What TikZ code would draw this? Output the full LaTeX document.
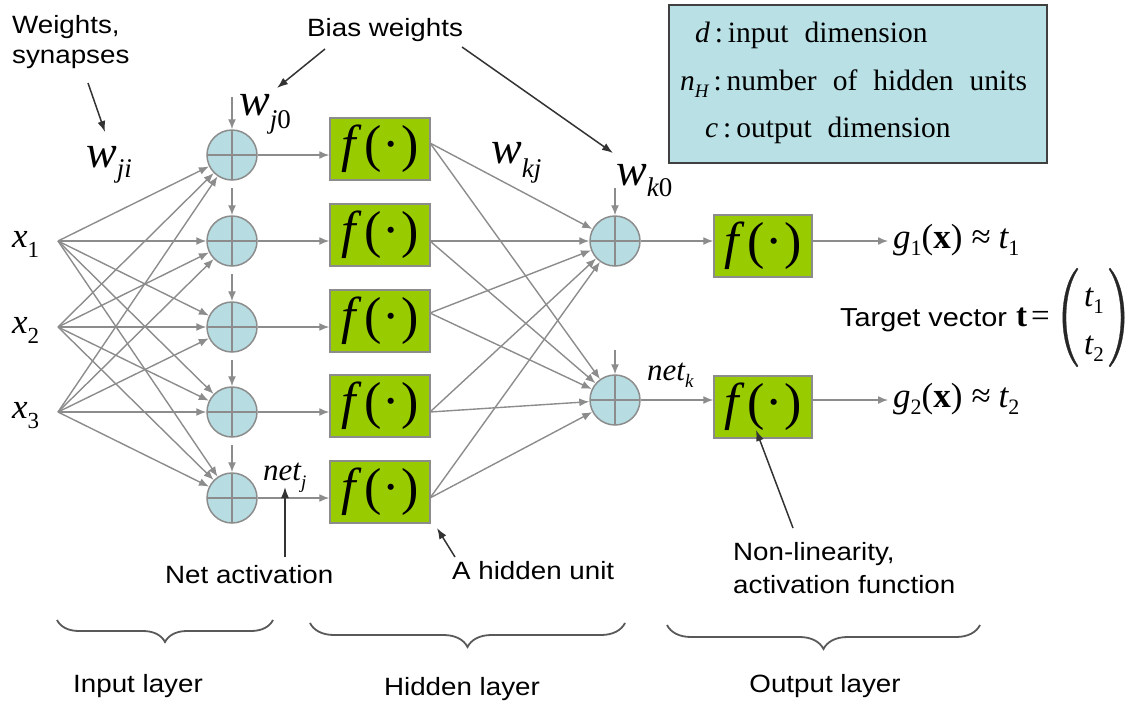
\documentclass[tikz,border=0pt]{standalone}
\usepackage{graphicx}
\usepackage{fontspec}
\setmainfont{Liberation Serif}
\newfontfamily\lsans[FakeStretch=1.11]{Liberation Sans}
\usetikzlibrary{arrows.meta,decorations.pathreplacing}
\definecolor{sumblue}{HTML}{B7DDE3}
\definecolor{unitgreen}{HTML}{99CC00}
\definecolor{linegray}{HTML}{8C8C8C}
\definecolor{boxblue}{HTML}{B9E0E5}
\newcommand{\fsz}[1]{\fontsize{#1}{#1}\selectfont}
\newcommand{\fdot}{\itshape f\,\upshape(\kern1pt·\kern1pt)}
\begin{document}
\begin{tikzpicture}[x=1pt,y=-1pt,
  sumnode/.style={circle,draw=linegray,line width=1.5pt,fill=sumblue,minimum size=50pt,inner sep=0pt,
     path picture={\draw[linegray,line width=1.5pt] (path picture bounding box.north) -- (path picture bounding box.south) (path picture bounding box.west) -- (path picture bounding box.east);}},
  unit/.style={rectangle,draw=linegray,line width=1.5pt,fill=unitgreen,minimum width=100pt,minimum height=62pt,inner sep=0pt,font=\fsz{52}},
  conn/.style={draw=linegray,line width=1.4pt,-{Latex[length=10pt,width=8pt]}},
  note/.style={draw=black!80,line width=1.5pt,-{Latex[length=11pt,width=8pt]}},
  lab/.style={font=\lsans\fsz{25},inner sep=0pt},
  mth/.style={inner sep=0pt,anchor=base west},
  paren/.style={fill=black!85,draw=black!85,line width=0.3pt},
  brc/.style={draw=black!65,line width=1.8pt,decorate,decoration={brace,mirror,amplitude=#1}}
]
\useasboundingbox (0,0) rectangle (1125,702);

% info box
\node[draw=black!75,line width=2pt,fill=boxblue,minimum width=378pt,minimum height=158pt,inner sep=0pt] (info) at (858,84) {};
\node[mth,font=\fsz{29.5}] (l1) at (695,42) {\itshape d\upshape\,:\,input\hspace{16pt}dimension};
\node[mth,font=\fsz{29.5}] (l2) at (680,90) {\itshape n\raisebox{-7pt}{\fsz{19}H}\upshape\,:\,number\hspace{16pt}of\hspace{16pt}hidden\hspace{16pt}units};
\node[mth,font=\fsz{29.5}] (l3) at (705,137) {\itshape c\upshape\,:\,output\hspace{16pt}dimension};

% input labels
\foreach \i/\y in {1/241,2/327,3/412}{
  \node[mth,font=\fsz{35}] (x\i) at (12,\y+6) {\itshape x\raisebox{-10pt}{\fsz{23}\upshape \i}};
  \coordinate (xo\i) at (58,\y);
}

% summation nodes and hidden units
\foreach \j/\y in {1/155,2/241,3/327,4/412,5/498}{
  \node[sumnode] (s\j) at (232,\y) {};
  \node[unit] (h\j) at (380,\y-6) {\fdot};
}
\coordinate (bs1) at (232,97);
\coordinate (bs2) at (232,188);
\coordinate (bs3) at (232,274);
\coordinate (bs4) at (232,360);
\coordinate (bs5) at (232,445);
\foreach \j in {1,...,5}{
  \draw[conn] (bs\j) -- (s\j.north);
  \draw[conn] (s\j) -- (s\j -| h\j.west);
}
\foreach \i in {1,2,3}{
  \foreach \j in {1,...,5}{
    \draw[conn] (xo\i) -- (s\j);
  }
}

% output layer
\node[sumnode] (o1) at (615,241) {};
\node[sumnode] (o2) at (615,400) {};
\node[unit,minimum width=98pt] (y1) at (763,246) {\fdot};
\node[unit,minimum width=98pt] (y2) at (763,407) {\fdot};
\coordinate (bo1) at (615,188);
\coordinate (bo2) at (615,350);
\coordinate (ge1) at (888,241);
\coordinate (ge2) at (888,400);
\foreach \k in {1,2}{
  \draw[conn] (bo\k) -- (o\k.north);
  \draw[conn] (o\k) -- (o\k -| y\k.west);
  \draw[conn] (o\k -| y\k.east) -- (ge\k);
}
\coordinate (ho1) at (430,143);
\coordinate (ho2) at (430,241);
\coordinate (ho3) at (430,313);
\coordinate (ho4) at (430,412);
\coordinate (ho5) at (430,498);
\foreach \j in {1,...,5}{
  \draw[conn] (ho\j) -- (o1);
  \draw[conn] (ho\j) -- (o2);
}

% outputs
\node[mth,font=\fsz{35}] (g1) at (893,248) {\itshape g\raisebox{-7pt}{\fsz{22}\upshape 1}\upshape(\textbf{x})\kern9pt≈\kern8pt\itshape t\raisebox{-7pt}{\fsz{22}\upshape 1}};
\node[mth,font=\fsz{35}] (g2) at (893,407) {\itshape g\raisebox{-7pt}{\fsz{22}\upshape 2}\upshape(\textbf{x})\kern9pt≈\kern8pt\itshape t\raisebox{-7pt}{\fsz{22}\upshape 2}};

% target vector
\node[lab,anchor=base west,font=\lsans\fsz{26}] (tv) at (840,326) {Target vector};
\node[mth,font=\fsz{33}] (teq) at (1016,326) {\textbf{t}\kern4pt=};
\fill[paren] (1077,268) .. controls (1058,290) and (1058,345) .. (1077,367)
   -- (1078,366) .. controls (1062,342) and (1062,293) .. (1078,269) -- cycle;
\fill[paren] (1110,268) .. controls (1129,290) and (1129,345) .. (1110,367)
   -- (1109,366) .. controls (1125,342) and (1125,293) .. (1109,269) -- cycle;
\node[mth,font=\fsz{33}] (t1) at (1084,306) {\itshape t\raisebox{-7pt}{\fsz{21}\upshape 1}};
\node[mth,font=\fsz{33}] (t2) at (1084,354) {\itshape t\raisebox{-7pt}{\fsz{21}\upshape 2}};

% weight labels
\node[mth,font=\fsz{46}] (wji) at (86,167) {\itshape w\raisebox{-10pt}{\fsz{27}ji}};
\node[mth,font=\fsz{46}] (wj0) at (239,115) {\itshape w\raisebox{-13pt}{\fsz{27}j\upshape 0}};
\node[mth,font=\fsz{46}] (wkj) at (491,163) {\itshape w\raisebox{-14pt}{\fsz{27}kj}};
\node[mth,font=\fsz{46}] (wk0) at (616,185) {\itshape w\raisebox{-11pt}{\fsz{27}k\upshape 0}};
\node[mth,font=\fsz{31}] (netj) at (263,480) {\itshape net\raisebox{-8pt}{\fsz{19}j}};
\node[mth,font=\fsz{31}] (netk) at (647,380) {\itshape net\raisebox{-7pt}{\fsz{19}k}};

% annotations
\node[lab,anchor=base west] (wt1) at (12,33) {Weights,};
\node[lab,anchor=base west] (wt2) at (12,63) {synapses};
\coordinate (wa1) at (88,83); \coordinate (wa2) at (105,132);
\draw[note] (wa1) -- (wa2);
\node[lab,anchor=base west] (bw) at (307,36) {Bias weights};
\coordinate (ba1) at (325,49); \coordinate (ba2) at (277,88);
\coordinate (ba3) at (462,47); \coordinate (ba4) at (613,153);
\draw[note] (ba1) -- (ba2);
\draw[note] (ba3) -- (ba4);
\node[lab,anchor=base west] (na) at (165,583) {Net activation};
\coordinate (na1) at (285,557); \coordinate (na2) at (285,487);
\draw[note] (na1) -- (na2);
\node[lab,anchor=base west] (hu) at (452,579) {A hidden unit};
\coordinate (hu1) at (455,557); \coordinate (hu2) at (437,528);
\draw[note] (hu1) -- (hu2);
\node[lab,anchor=base west] (nl1) at (733,560) {Non-linearity,};
\node[lab,anchor=base west] (nl2) at (733,593) {activation function};
\coordinate (nl3) at (793,528); \coordinate (nl4) at (756,430);
\draw[note] (nl3) -- (nl4);

% braces
\coordinate (br1a) at (57,620); \coordinate (br1b) at (273,620);
\coordinate (br2a) at (310,623); \coordinate (br2b) at (625,623);
\coordinate (br3a) at (667,625); \coordinate (br3b) at (980,625);
\draw[brc=22pt] (br1a) -- (br1b);
\draw[brc=24pt] (br2a) -- (br2b);
\draw[brc=24pt] (br3a) -- (br3b);
\node[lab,anchor=base] (il) at (138,692) {Input layer};
\node[lab,anchor=base] (hl) at (462,695) {Hidden layer};
\node[lab,anchor=base] (ol) at (825,692) {Output layer};
\end{tikzpicture}
\end{document}
